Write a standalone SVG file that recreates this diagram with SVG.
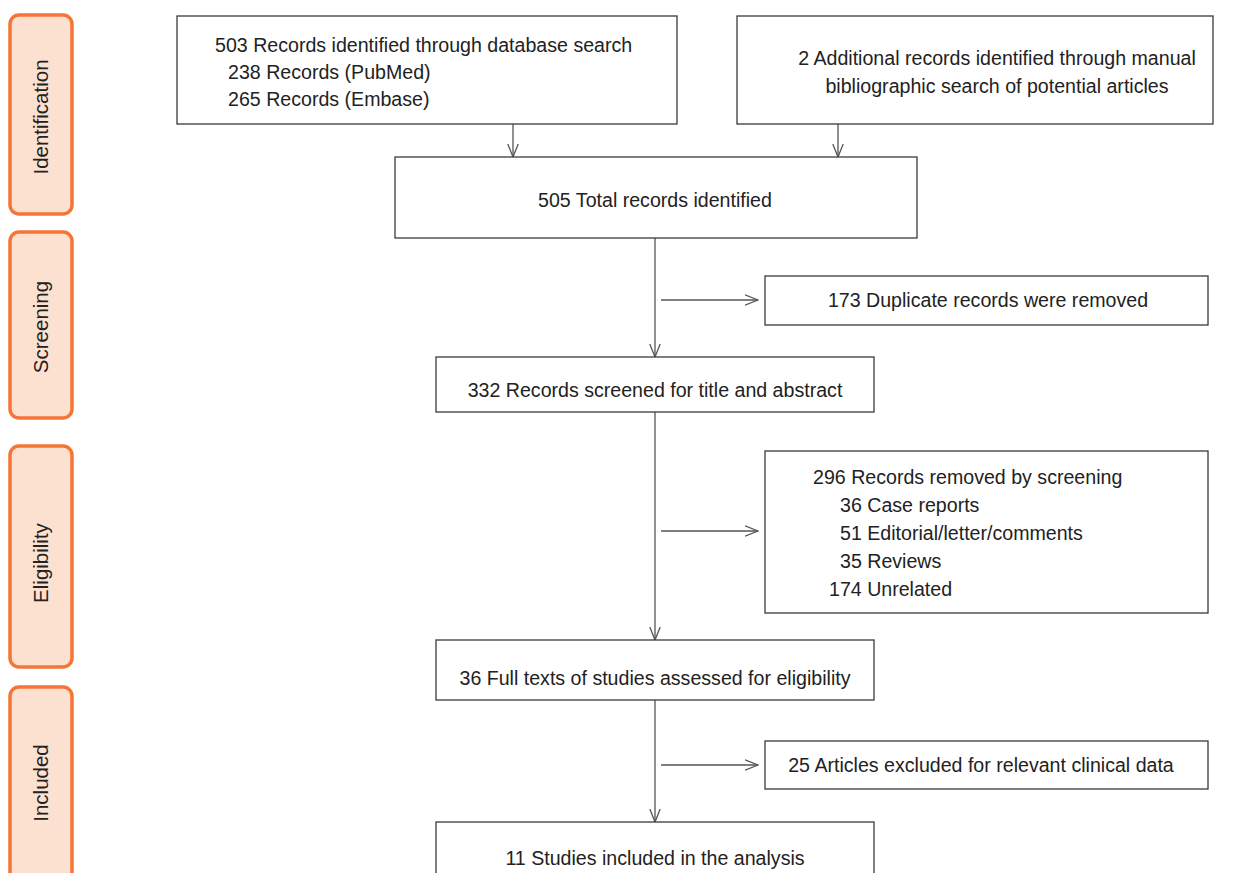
<svg xmlns="http://www.w3.org/2000/svg" width="1248" height="873" viewBox="0 0 1248 873">
<defs>
<style>
.stage{fill:#FDE1D0;stroke:#F47536;stroke-width:3.5}
.box{fill:#fff;stroke:#3a3a3a;stroke-width:1.3}
text{font-family:"Liberation Sans",Arial,sans-serif;font-size:19.6px;fill:#222}
.st{font-size:20.5px}
.c{text-anchor:middle}
.ln{stroke:#555;stroke-width:1.3;fill:none}
</style>
<marker id="ah" viewBox="0 0 14 12" refX="13" refY="6" markerWidth="14" markerHeight="12" markerUnits="userSpaceOnUse" orient="auto">
<path d="M0,0.8 L13,6 L0,11.2" fill="none" stroke="#555" stroke-width="1.3"/>
</marker>
</defs>
<rect width="1248" height="873" fill="#fff"/>
<g id="stage-identification"><rect class="stage" x="10" y="15" width="62" height="199" rx="9"/><text class="c st" transform="translate(48,117) rotate(-90)">Identification</text></g>
<g id="stage-screening"><rect class="stage" x="10" y="232" width="62" height="186" rx="9"/><text class="c st" transform="translate(48,327) rotate(-90)">Screening</text></g>
<g id="stage-eligibility"><rect class="stage" x="10" y="446" width="62" height="221" rx="9"/><text class="c st" transform="translate(48,563) rotate(-90)">Eligibility</text></g>
<g id="stage-included"><rect class="stage" x="10" y="687" width="62" height="200" rx="9"/><text class="c st" transform="translate(48,783) rotate(-90)">Included</text></g>
<g id="connectors">
<line class="ln" x1="513" y1="124" x2="513" y2="157" marker-end="url(#ah)"/>
<line class="ln" x1="838" y1="124" x2="838" y2="157" marker-end="url(#ah)"/>
<line class="ln" x1="655" y1="238" x2="655" y2="357" marker-end="url(#ah)"/>
<line class="ln" x1="661" y1="300" x2="758" y2="300" marker-end="url(#ah)"/>
<line class="ln" x1="655" y1="412" x2="655" y2="640" marker-end="url(#ah)"/>
<line class="ln" x1="661" y1="531" x2="758" y2="531" marker-end="url(#ah)"/>
<line class="ln" x1="655" y1="700" x2="655" y2="822" marker-end="url(#ah)"/>
<line class="ln" x1="661" y1="765" x2="758" y2="765" marker-end="url(#ah)"/>
</g>
<g id="db-search"><rect class="box" x="177" y="16" width="500" height="108"/>
<text x="215" y="52">503 Records identified through database search</text>
<text x="228" y="79">238 Records (PubMed)</text>
<text x="228" y="106">265 Records (Embase)</text></g>
<g id="manual-search"><rect class="box" x="737" y="16" width="476" height="108"/>
<text class="c" x="997" y="65">2 Additional records identified through manual</text>
<text class="c" x="997" y="93">bibliographic search of potential articles</text></g>
<g id="total"><rect class="box" x="395" y="157" width="522" height="81"/><text class="c" x="655" y="207">505 Total records identified</text></g>
<g id="duplicates"><rect class="box" x="765" y="276" width="443" height="49"/><text class="c" x="988" y="307">173 Duplicate records were removed</text></g>
<g id="screened"><rect class="box" x="436" y="357" width="438" height="55"/><text class="c" x="655" y="397">332 Records screened for title and abstract</text></g>
<g id="removed"><rect class="box" x="765" y="451" width="443" height="162"/>
<text x="813" y="484">296 Records removed by screening</text>
<text x="840" y="512">36 Case reports</text>
<text x="840" y="540">51 Editorial/letter/comments</text>
<text x="840" y="568">35 Reviews</text>
<text x="829" y="596">174 Unrelated</text></g>
<g id="fulltext"><rect class="box" x="436" y="640" width="438" height="60"/><text class="c" x="655" y="685">36 Full texts of studies assessed for eligibility</text></g>
<g id="excluded"><rect class="box" x="765" y="741" width="443" height="48"/><text class="c" x="981" y="772">25 Articles excluded for relevant clinical data</text></g>
<g id="included"><rect class="box" x="436" y="822" width="438" height="60"/><text class="c" x="655" y="865">11 Studies included in the analysis</text></g>
</svg>
